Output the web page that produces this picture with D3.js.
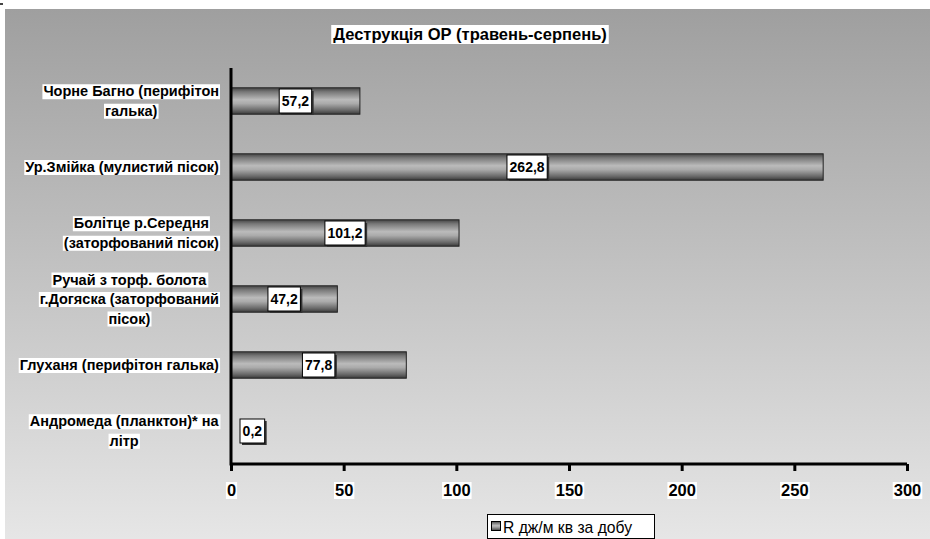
<!DOCTYPE html>
<html><head><meta charset="utf-8">
<script src="https://cdn.jsdelivr.net/npm/d3@7"></script>
<style>body{margin:0;background:#fff}svg{display:block}text{font-family:"Liberation Sans",Arial,sans-serif}</style>
</head><body>
<svg id="c" width="930" height="539"></svg>
<script>
const categories = [
  ["Чорне Багно (перифітон", "галька)"],
  ["Ур.Змійка (мулистий пісок)"],
  ["Болітце р.Середня", "(заторфований пісок)"],
  ["Ручай з торф. болота", "г.Догяска (заторфований", "пісок)"],
  ["Глуханя (перифітон галька)"],
  ["Андромеда (планктон)* на", "літр"]
];
const values = [57.2, 262.8, 101.2, 47.2, 77.8, 0.2];
const valueLabels = ["57,2", "262,8", "101,2", "47,2", "77,8", "0,2"];
const xTicks = [0, 50, 100, 150, 200, 250, 300];
const title = "Деструкція ОР (травень-серпень)";
const legendLabel = "R дж/м кв за добу";

const svg = d3.select("#c");
const defs = svg.append("defs");
const bg = defs.append("linearGradient").attr("id","bg").attr("x1",0).attr("y1",0).attr("x2",0).attr("y2",1);
bg.append("stop").attr("offset","0%").attr("stop-color","#9f9f9f");
bg.append("stop").attr("offset","100%").attr("stop-color","#e6e6e6");
const bar = defs.append("linearGradient").attr("id","bar").attr("x1",0).attr("y1",0).attr("x2",0).attr("y2",1);
[["0%","#444"],["15%","#777"],["45%","#bbb"],["60%","#aaa"],["85%","#6a6a6a"],["100%","#3a3a3a"]]
  .forEach(([o,c])=>bar.append("stop").attr("offset",o).attr("stop-color",c));

svg.append("rect").attr("x",0).attr("y",3).attr("width",3).attr("height",2).attr("fill","#444");
svg.append("rect").attr("x",5).attr("y",9).attr("width",925).attr("height",530).attr("fill","url(#bg)");

const pLeft = 231, pRight = 907, pTop = 68, pBottom = 464;
const x = d3.scaleLinear().domain([0,300]).range([pLeft,pRight]);
const y = d3.scaleBand().domain(d3.range(categories.length)).range([pTop,pBottom]).paddingInner(0.6).paddingOuter(0.3);

// title
const tg = svg.append("g");
const tt = tg.append("text").attr("x",470).attr("y",40).attr("text-anchor","middle")
  .attr("font-size",16.5).attr("font-weight","bold").text(title);
const tb = tt.node().getBBox();
tg.insert("rect","text").attr("x",tb.x-2).attr("y",tb.y).attr("width",tb.width+4).attr("height",tb.height+1).attr("fill","#fff");

// bars
svg.append("g").selectAll("rect").data(values).join("rect")
  .attr("x",pLeft).attr("y",(d,i)=>y(i)).attr("width",d=>x(d)-pLeft).attr("height",y.bandwidth())
  .attr("fill","url(#bar)").attr("stroke","#222").attr("stroke-width",1);

// value labels
values.forEach((v,i)=>{
  const g = svg.append("g");
  const cy = y(i)+y.bandwidth()/2;
  const t = g.append("text").attr("y",cy+5).attr("text-anchor","middle")
    .attr("font-size",14).attr("font-weight","bold").text(valueLabels[i]);
  const w = t.node().getBBox().width + 5;
  let cx = (x(v)+pLeft)/2;
  cx = Math.max(cx, pLeft + 9 + w/2);
  t.attr("x",cx);
  const h = 24;
  g.insert("rect","text").attr("x",cx-w/2+2).attr("y",cy-h/2+2).attr("width",w).attr("height",h).attr("fill","#333");
  g.insert("rect","text").attr("x",cx-w/2).attr("y",cy-h/2).attr("width",w).attr("height",h).attr("fill","#fff").attr("stroke","#000").attr("stroke-width",1);
});

// category labels
const catFont = 14.5;
categories.forEach((lines,i)=>{
  const cy = y(i)+y.bandwidth()/2;
  const lh = 19.5;
  const y0 = cy - (lines.length-1)*lh/2;
  const g = svg.append("g");
  const maxW = d3.max(lines, l=>{ const t=g.append("text").attr("font-size",catFont).attr("font-weight","bold").text(l); const w=t.node().getBBox().width; t.remove(); return w;});
  const cx = 219 - maxW/2;
  lines.forEach((l,j)=>{
    const t = g.append("text").attr("x",cx).attr("y",y0+j*lh+5).attr("text-anchor","middle")
      .attr("font-size",catFont).attr("font-weight","bold").text(l);
    const b = t.node().getBBox();
    g.insert("rect","text").attr("x",b.x-1).attr("y",b.y+1).attr("width",b.width+2).attr("height",b.height-1).attr("fill","#fff");
  });
});

// axes
const xa = svg.append("g").attr("transform",`translate(0,${pBottom})`)
  .call(d3.axisBottom(x).tickValues(xTicks).tickSize(7).tickFormat(d3.format("d")));
xa.select(".domain").attr("stroke","#000").attr("stroke-width",3).attr("d",`M${pLeft},0H${pRight}`);
xa.selectAll(".tick line").attr("stroke","#000").attr("stroke-width",3);
xa.selectAll(".tick text").attr("font-size",16.5).attr("font-weight","bold").attr("fill","#000").attr("dy",0).attr("y",32)
  .attr("font-family","'Liberation Sans',Arial,sans-serif");
xa.selectAll(".tick").each(function(){
  const t = d3.select(this).select("text"); const b = t.node().getBBox();
  d3.select(this).insert("rect","text").attr("x",b.x-1).attr("y",b.y+1).attr("width",b.width+2).attr("height",b.height-1).attr("fill","#fff");
});
svg.append("line").attr("x1",pLeft).attr("x2",pLeft).attr("y1",pTop).attr("y2",pBottom+1.5).attr("stroke","#000").attr("stroke-width",3);

// legend
const lg = svg.append("g");
lg.append("rect").attr("x",487.5).attr("y",514.5).attr("width",167).attr("height",24).attr("fill","#fff").attr("stroke","#000");
lg.append("rect").attr("x",491.5).attr("y",521.5).attr("width",9).attr("height",9).attr("fill","url(#bar)").attr("stroke","#000");
lg.append("text").attr("x",503).attr("y",532.5).attr("font-size",15.7).attr("fill","#000").text(legendLabel);
</script>
</body></html>
